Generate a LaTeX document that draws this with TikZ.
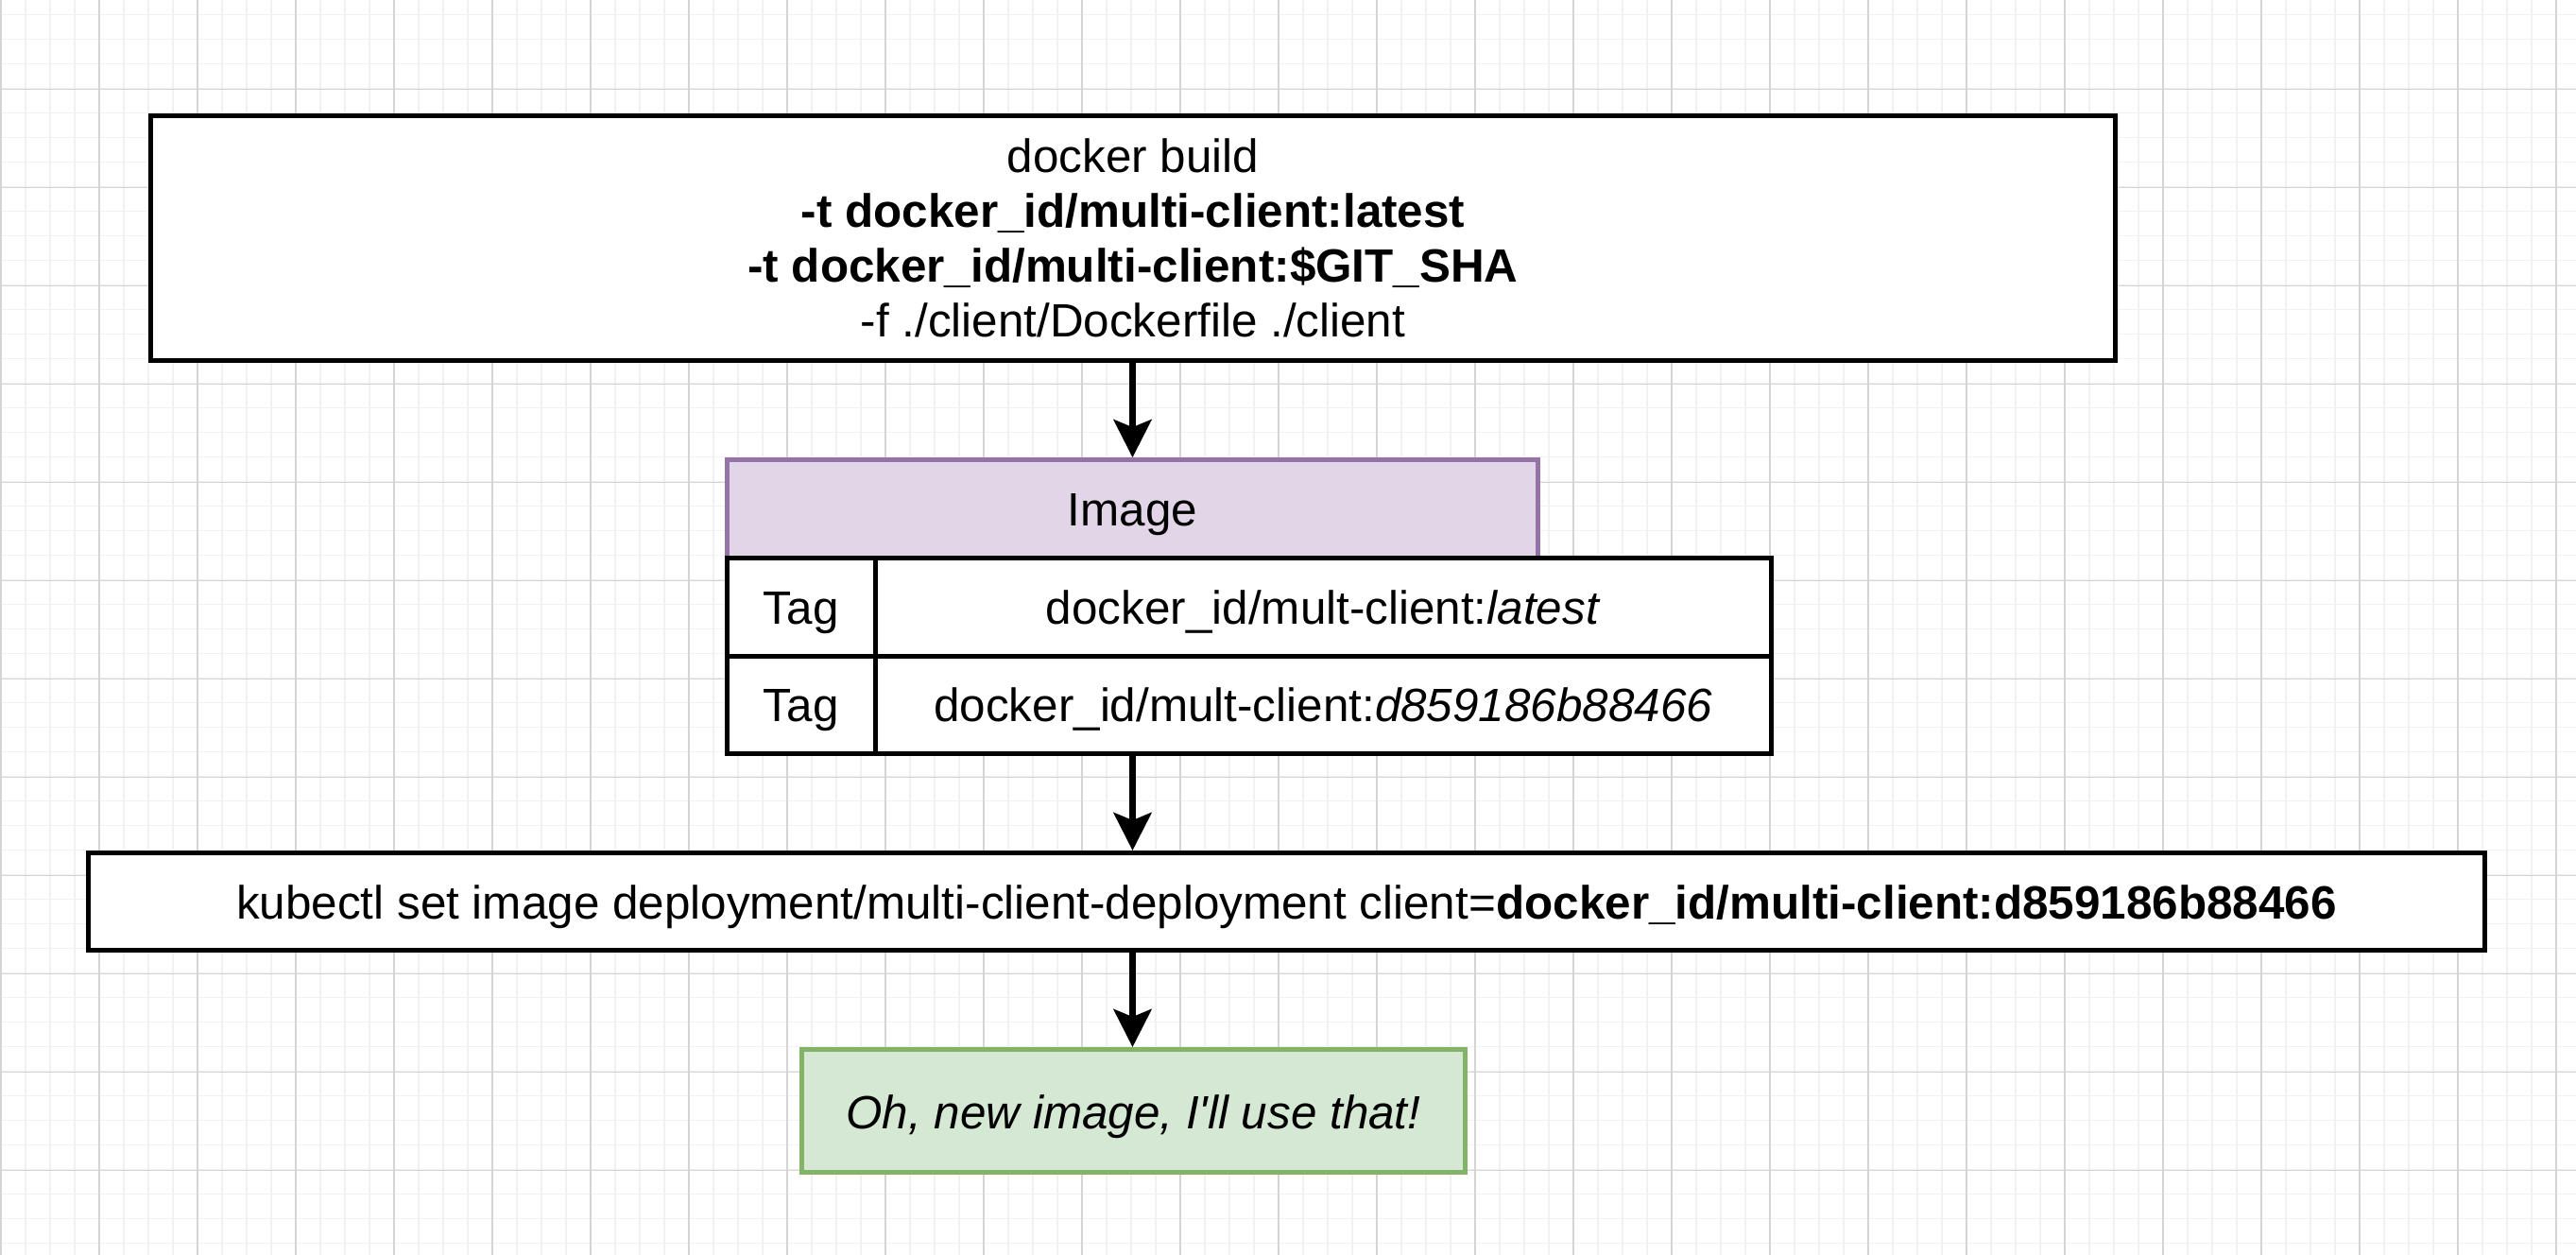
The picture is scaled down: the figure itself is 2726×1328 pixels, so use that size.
\documentclass[tikz,border=0pt]{standalone}
\usepackage{fontspec}
\setmainfont{Liberation Sans}[Ligatures=TeXOff]
\usetikzlibrary{arrows.meta}
\definecolor{purpfill}{HTML}{E1D5E7}
\definecolor{purpline}{HTML}{9673A6}
\definecolor{grnfill}{HTML}{D5E8D4}
\definecolor{grnline}{HTML}{82B366}
\definecolor{gridminor}{HTML}{F1F1F1}
\definecolor{gridmajor}{HTML}{D4D4D4}
\tikzset{
  txt/.style={font=\fontsize{24.7pt}{29pt}\selectfont, align=center, text=black},
  oneline/.style={text height=22.8pt, text depth=4.8pt},
  blackbox/.style={txt, draw=black, line width=2.5pt, fill=white, inner sep=0pt, rectangle},
  header/.style={txt, oneline, draw=purpline, line width=2.4pt, fill=purpfill, inner sep=0pt, rectangle},
  notebox/.style={txt, draw=grnline, line width=2.5pt, fill=grnfill, inner sep=0pt, rectangle, text height=24pt, text depth=4.6pt},
  arr/.style={line width=3.4pt, -{Stealth[length=20pt, width=20pt, inset=4pt]}},
  minorline/.style={draw=gridminor, line width=0.75pt},
  majorline/.style={draw=gridmajor, line width=0.6pt}
}
\begin{document}
\begin{tikzpicture}[x=0.5pt, y=-0.5pt]
\useasboundingbox (0,0) rectangle (2726,1328);
\fill[white] (0,0) rectangle (2726,1328);
% grid
\foreach \xx in {1,27,...,2705} {\draw[minorline] (\xx,0) -- (\xx,1328);}
\foreach \yy in {15.7,41.7,...,1320} {\draw[minorline] (0,\yy) -- (2726,\yy);}
\foreach \xx in {1,105,...,2705} {\draw[majorline] (\xx,0) -- (\xx,1328);}
\foreach \yy in {94.3,198.3,...,1300} {\draw[majorline] (0,\yy) -- (2726,\yy);}

% docker build box
\node[blackbox, minimum width=1039.5pt, minimum height=129.5pt] (build) at (1199,252)
  {docker build\\
   \textbf{-t docker\_id/multi-client:latest}\\
   \textbf{-t docker\_id/multi-client:\$GIT\_SHA}\\
   -f ./client/Dockerfile ./client};

% image header
\node[header, minimum width=429pt, minimum height=52pt] (hdr) at (1198.5,538.5) {Image};

% table cells
\node[blackbox, oneline, minimum width=78.25pt, minimum height=51.75pt] (tag1) at (847.75,642.25) {Tag};
\node[blackbox, oneline, minimum width=474.25pt, minimum height=51.75pt] (val1) at (1400.25,642.25)
  {docker\_id/mult-client:\textit{latest}};
\node[blackbox, oneline, minimum width=78.25pt, minimum height=51.75pt] (tag2) at (847.75,745.75) {Tag};
\node[blackbox, oneline, minimum width=474.25pt, minimum height=51.75pt] (val2) at (1400.25,745.75)
  {docker\_id/mult-client:\textit{d859186b88466}};

% kubectl box
\node[blackbox, oneline, minimum width=1268pt, minimum height=51.5pt] (kub) at (1361.5,954)
  {kubectl set image deployment/multi-client-deployment client=\textbf{docker\_id/multi-client:d859186b88466}};

% note
\node[notebox, minimum width=351pt, minimum height=65pt] (note) at (1199.5,1175.5)
  {\textit{Oh, new image, I'll use that!}};

% arrows
\draw[arr] (build.south -| hdr.north) -- (hdr.north);
\draw[arr] (val2.south -| hdr.north) -- (kub.north -| hdr.north);
\draw[arr] (kub.south -| hdr.north) -- (note.north -| hdr.north);
\end{tikzpicture}
\end{document}
